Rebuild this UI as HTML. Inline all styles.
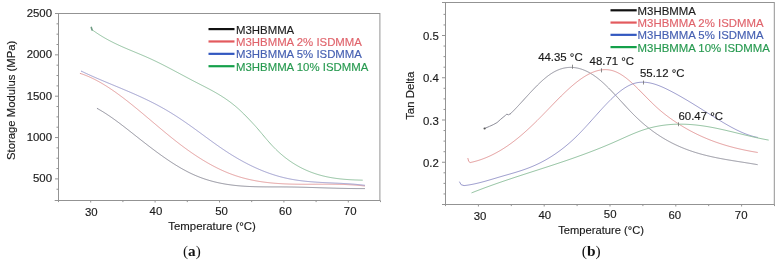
<!DOCTYPE html>
<html><head><meta charset="utf-8"><style>
html,body{margin:0;padding:0;background:#fff;}
body{width:779px;height:263px;overflow:hidden;}
svg{display:block;filter:blur(0.45px);font-family:"Liberation Sans",sans-serif;font-size:11.4px;fill:#1a1a1a;}
text{stroke:#1a1a1a;stroke-width:0.15px;}
</style></head><body>
<svg width="779" height="263" viewBox="0 0 779 263">
<rect width="779" height="263" fill="#fff"/>
<line x1="54.7" y1="200.5" x2="58.5" y2="200.5" stroke="#939393"/>
<rect x="58.5" y="13.5" width="321.4" height="187.0" fill="none" stroke="#939393" stroke-width="1"/>
<line x1="56.5" y1="189.24" x2="58.5" y2="189.24" stroke="#939393"/>
<line x1="55.0" y1="178.90" x2="58.5" y2="178.90" stroke="#939393"/>
<text x="52" y="182.30" text-anchor="end">500</text>
<line x1="56.5" y1="168.56" x2="58.5" y2="168.56" stroke="#939393"/>
<line x1="56.5" y1="158.22" x2="58.5" y2="158.22" stroke="#939393"/>
<line x1="56.5" y1="147.89" x2="58.5" y2="147.89" stroke="#939393"/>
<line x1="55.0" y1="137.55" x2="58.5" y2="137.55" stroke="#939393"/>
<text x="52" y="140.95" text-anchor="end">1000</text>
<line x1="56.5" y1="127.21" x2="58.5" y2="127.21" stroke="#939393"/>
<line x1="56.5" y1="116.88" x2="58.5" y2="116.88" stroke="#939393"/>
<line x1="56.5" y1="106.54" x2="58.5" y2="106.54" stroke="#939393"/>
<line x1="55.0" y1="96.20" x2="58.5" y2="96.20" stroke="#939393"/>
<text x="52" y="99.60" text-anchor="end">1500</text>
<line x1="56.5" y1="85.86" x2="58.5" y2="85.86" stroke="#939393"/>
<line x1="56.5" y1="75.53" x2="58.5" y2="75.53" stroke="#939393"/>
<line x1="56.5" y1="65.19" x2="58.5" y2="65.19" stroke="#939393"/>
<line x1="55.0" y1="54.85" x2="58.5" y2="54.85" stroke="#939393"/>
<text x="52" y="58.25" text-anchor="end">2000</text>
<line x1="56.5" y1="44.51" x2="58.5" y2="44.51" stroke="#939393"/>
<line x1="56.5" y1="34.17" x2="58.5" y2="34.17" stroke="#939393"/>
<line x1="56.5" y1="23.84" x2="58.5" y2="23.84" stroke="#939393"/>
<line x1="55.0" y1="13.50" x2="58.5" y2="13.50" stroke="#939393"/>
<text x="52" y="16.90" text-anchor="end">2500</text>
<line x1="58.50" y1="200.5" x2="58.50" y2="202.1" stroke="#939393"/>
<line x1="90.70" y1="200.5" x2="90.70" y2="202.5" stroke="#939393"/>
<text x="91.30" y="216.10" text-anchor="middle">30</text>
<line x1="122.90" y1="200.5" x2="122.90" y2="202.1" stroke="#939393"/>
<line x1="155.10" y1="200.5" x2="155.10" y2="202.5" stroke="#939393"/>
<text x="155.90" y="215.40" text-anchor="middle">40</text>
<line x1="187.30" y1="200.5" x2="187.30" y2="202.1" stroke="#939393"/>
<line x1="219.50" y1="200.5" x2="219.50" y2="202.5" stroke="#939393"/>
<text x="221.50" y="214.70" text-anchor="middle">50</text>
<line x1="251.70" y1="200.5" x2="251.70" y2="202.1" stroke="#939393"/>
<line x1="283.90" y1="200.5" x2="283.90" y2="202.5" stroke="#939393"/>
<text x="285.40" y="215.00" text-anchor="middle">60</text>
<line x1="316.10" y1="200.5" x2="316.10" y2="202.1" stroke="#939393"/>
<line x1="348.30" y1="200.5" x2="348.30" y2="202.5" stroke="#939393"/>
<text x="350.20" y="215.00" text-anchor="middle">70</text>
<line x1="380.50" y1="200.5" x2="380.50" y2="202.1" stroke="#939393"/>
<text x="168.3" y="229.8" textLength="87.5" lengthAdjust="spacingAndGlyphs">Temperature (°C)</text>
<text transform="translate(14.9,100.3) rotate(-90)" text-anchor="middle" font-size="11.3">Storage Modulus (MPa)</text>
<text x="191.9" y="256" text-anchor="middle" font-family="Liberation Serif, serif" font-size="15.2" style="fill:#111;stroke:none">(<tspan font-weight="bold">a</tspan>)</text>
<path d="M97.30,108.51 L98.30,109.06 L99.30,109.63 L100.30,110.21 L101.30,110.80 L102.30,111.40 L103.30,112.01 L104.30,112.64 L105.30,113.27 L106.30,113.92 L107.30,114.58 L108.30,115.24 L109.30,115.92 L110.30,116.60 L111.30,117.29 L112.30,117.99 L113.30,118.70 L114.30,119.41 L115.30,120.14 L116.30,120.87 L117.30,121.60 L118.30,122.34 L119.30,123.09 L120.30,123.84 L121.30,124.60 L122.30,125.36 L123.30,126.13 L124.30,126.90 L125.30,127.67 L126.30,128.45 L127.30,129.23 L128.30,130.01 L129.30,130.80 L130.30,131.58 L131.30,132.37 L132.30,133.16 L133.30,133.95 L134.30,134.74 L135.30,135.53 L136.30,136.32 L137.30,137.11 L138.30,137.89 L139.30,138.68 L140.30,139.47 L141.30,140.25 L142.30,141.03 L143.30,141.81 L144.30,142.59 L145.30,143.37 L146.30,144.14 L147.30,144.92 L148.30,145.68 L149.30,146.45 L150.30,147.21 L151.30,147.97 L152.30,148.73 L153.30,149.48 L154.30,150.23 L155.30,150.98 L156.30,151.72 L157.30,152.45 L158.30,153.19 L159.30,153.91 L160.30,154.64 L161.30,155.35 L162.30,156.07 L163.30,156.77 L164.30,157.47 L165.30,158.17 L166.30,158.86 L167.30,159.54 L168.30,160.22 L169.30,160.89 L170.30,161.55 L171.30,162.21 L172.30,162.86 L173.30,163.50 L174.30,164.13 L175.30,164.76 L176.30,165.38 L177.30,165.99 L178.30,166.59 L179.30,167.19 L180.30,167.77 L181.30,168.35 L182.30,168.92 L183.30,169.48 L184.30,170.02 L185.30,170.56 L186.30,171.10 L187.30,171.62 L188.30,172.13 L189.30,172.63 L190.30,173.12 L191.30,173.60 L192.30,174.06 L193.30,174.52 L194.30,174.97 L195.30,175.40 L196.30,175.83 L197.30,176.24 L198.30,176.65 L199.30,177.04 L200.30,177.42 L201.30,177.80 L202.30,178.16 L203.30,178.51 L204.30,178.86 L205.30,179.19 L206.30,179.52 L207.30,179.83 L208.30,180.14 L209.30,180.44 L210.30,180.72 L211.30,181.00 L212.30,181.28 L213.30,181.54 L214.30,181.79 L215.30,182.04 L216.30,182.28 L217.30,182.51 L218.30,182.73 L219.30,182.94 L220.30,183.15 L221.30,183.35 L222.30,183.54 L223.30,183.73 L224.30,183.91 L225.30,184.08 L226.30,184.25 L227.30,184.40 L228.30,184.56 L229.30,184.70 L230.30,184.84 L231.30,184.97 L232.30,185.10 L233.30,185.22 L234.30,185.34 L235.30,185.45 L236.30,185.56 L237.30,185.66 L238.30,185.75 L239.30,185.84 L240.30,185.93 L241.30,186.01 L242.30,186.08 L243.30,186.15 L244.30,186.22 L245.30,186.28 L246.30,186.34 L247.30,186.40 L248.30,186.45 L249.30,186.50 L250.30,186.54 L251.30,186.58 L252.30,186.62 L253.30,186.65 L254.30,186.69 L255.30,186.72 L256.30,186.74 L257.30,186.77 L258.30,186.79 L259.30,186.81 L260.30,186.82 L261.30,186.84 L262.30,186.85 L263.30,186.86 L264.30,186.87 L265.30,186.88 L266.30,186.89 L267.30,186.89 L268.30,186.90 L269.30,186.90 L270.30,186.90 L271.30,186.91 L272.30,186.91 L273.30,186.91 L274.30,186.91 L275.30,186.91 L276.30,186.91 L277.30,186.91 L278.30,186.91 L279.30,186.92 L280.30,186.92 L281.30,186.92 L282.30,186.93 L283.30,186.93 L284.30,186.94 L285.30,186.94 L286.30,186.95 L287.30,186.96 L288.30,186.97 L289.30,186.99 L290.30,187.00 L291.30,187.01 L292.30,187.03 L293.30,187.05 L294.30,187.06 L295.30,187.08 L296.30,187.10 L297.30,187.12 L298.30,187.14 L299.30,187.17 L300.30,187.19 L301.30,187.21 L302.30,187.24 L303.30,187.26 L304.30,187.29 L305.30,187.32 L306.30,187.34 L307.30,187.37 L308.30,187.40 L309.30,187.43 L310.30,187.46 L311.30,187.48 L312.30,187.51 L313.30,187.54 L314.30,187.57 L315.30,187.60 L316.30,187.64 L317.30,187.67 L318.30,187.70 L319.30,187.73 L320.30,187.76 L321.30,187.79 L322.30,187.82 L323.30,187.85 L324.30,187.88 L325.30,187.91 L326.30,187.94 L327.30,187.97 L328.30,188.00 L329.30,188.03 L330.30,188.06 L331.30,188.09 L332.30,188.12 L333.30,188.15 L334.30,188.17 L335.30,188.20 L336.30,188.23 L337.30,188.25 L338.30,188.28 L339.30,188.30 L340.30,188.33 L341.30,188.35 L342.30,188.37 L343.30,188.39 L344.30,188.41 L345.30,188.43 L346.30,188.45 L347.30,188.47 L348.30,188.49 L349.30,188.50 L350.30,188.52 L351.30,188.53 L352.30,188.54 L353.30,188.55 L354.30,188.56 L355.30,188.57 L356.30,188.58 L357.30,188.59 L358.30,188.59 L359.30,188.59 L360.30,188.59 L361.30,188.59 L362.30,188.59 L363.30,188.59 L364.30,188.59 L364.60,188.58" fill="none" stroke="#8e8e9a" stroke-width="1" stroke-linejoin="round" stroke-linecap="round"/>
<path d="M80.30,73.46 L81.30,73.78 L82.30,74.12 L83.30,74.47 L84.30,74.84 L85.30,75.22 L86.30,75.61 L87.30,76.02 L88.30,76.44 L89.30,76.88 L90.30,77.32 L91.30,77.78 L92.30,78.26 L93.30,78.74 L94.30,79.24 L95.30,79.75 L96.30,80.27 L97.30,80.80 L98.30,81.34 L99.30,81.90 L100.30,82.46 L101.30,83.04 L102.30,83.62 L103.30,84.22 L104.30,84.83 L105.30,85.44 L106.30,86.07 L107.30,86.70 L108.30,87.35 L109.30,88.00 L110.30,88.66 L111.30,89.34 L112.30,90.01 L113.30,90.70 L114.30,91.40 L115.30,92.10 L116.30,92.81 L117.30,93.53 L118.30,94.26 L119.30,94.99 L120.30,95.73 L121.30,96.47 L122.30,97.22 L123.30,97.98 L124.30,98.74 L125.30,99.51 L126.30,100.29 L127.30,101.07 L128.30,101.85 L129.30,102.64 L130.30,103.44 L131.30,104.24 L132.30,105.04 L133.30,105.85 L134.30,106.66 L135.30,107.48 L136.30,108.29 L137.30,109.12 L138.30,109.94 L139.30,110.77 L140.30,111.60 L141.30,112.43 L142.30,113.26 L143.30,114.10 L144.30,114.94 L145.30,115.78 L146.30,116.62 L147.30,117.46 L148.30,118.30 L149.30,119.15 L150.30,119.99 L151.30,120.84 L152.30,121.68 L153.30,122.53 L154.30,123.37 L155.30,124.21 L156.30,125.06 L157.30,125.90 L158.30,126.74 L159.30,127.58 L160.30,128.42 L161.30,129.25 L162.30,130.09 L163.30,130.92 L164.30,131.75 L165.30,132.58 L166.30,133.40 L167.30,134.22 L168.30,135.04 L169.30,135.86 L170.30,136.67 L171.30,137.48 L172.30,138.28 L173.30,139.08 L174.30,139.87 L175.30,140.66 L176.30,141.45 L177.30,142.23 L178.30,143.00 L179.30,143.77 L180.30,144.54 L181.30,145.29 L182.30,146.05 L183.30,146.79 L184.30,147.53 L185.30,148.26 L186.30,148.99 L187.30,149.71 L188.30,150.43 L189.30,151.13 L190.30,151.84 L191.30,152.53 L192.30,153.22 L193.30,153.90 L194.30,154.57 L195.30,155.24 L196.30,155.90 L197.30,156.56 L198.30,157.20 L199.30,157.84 L200.30,158.48 L201.30,159.10 L202.30,159.72 L203.30,160.33 L204.30,160.93 L205.30,161.53 L206.30,162.12 L207.30,162.70 L208.30,163.27 L209.30,163.83 L210.30,164.39 L211.30,164.94 L212.30,165.48 L213.30,166.02 L214.30,166.54 L215.30,167.06 L216.30,167.57 L217.30,168.07 L218.30,168.56 L219.30,169.04 L220.30,169.52 L221.30,169.98 L222.30,170.44 L223.30,170.89 L224.30,171.33 L225.30,171.76 L226.30,172.18 L227.30,172.60 L228.30,173.00 L229.30,173.40 L230.30,173.78 L231.30,174.16 L232.30,174.53 L233.30,174.88 L234.30,175.23 L235.30,175.58 L236.30,175.91 L237.30,176.23 L238.30,176.55 L239.30,176.85 L240.30,177.15 L241.30,177.44 L242.30,177.73 L243.30,178.00 L244.30,178.27 L245.30,178.53 L246.30,178.78 L247.30,179.02 L248.30,179.26 L249.30,179.49 L250.30,179.71 L251.30,179.93 L252.30,180.14 L253.30,180.34 L254.30,180.53 L255.30,180.72 L256.30,180.90 L257.30,181.08 L258.30,181.25 L259.30,181.41 L260.30,181.57 L261.30,181.72 L262.30,181.87 L263.30,182.01 L264.30,182.15 L265.30,182.28 L266.30,182.40 L267.30,182.52 L268.30,182.63 L269.30,182.74 L270.30,182.85 L271.30,182.95 L272.30,183.04 L273.30,183.13 L274.30,183.22 L275.30,183.30 L276.30,183.37 L277.30,183.45 L278.30,183.52 L279.30,183.58 L280.30,183.64 L281.30,183.70 L282.30,183.76 L283.30,183.81 L284.30,183.86 L285.30,183.90 L286.30,183.94 L287.30,183.98 L288.30,184.02 L289.30,184.05 L290.30,184.08 L291.30,184.11 L292.30,184.13 L293.30,184.15 L294.30,184.17 L295.30,184.19 L296.30,184.21 L297.30,184.22 L298.30,184.23 L299.30,184.24 L300.30,184.25 L301.30,184.26 L302.30,184.26 L303.30,184.26 L304.30,184.27 L305.30,184.27 L306.30,184.27 L307.30,184.27 L308.30,184.27 L309.30,184.26 L310.30,184.26 L311.30,184.26 L312.30,184.25 L313.30,184.25 L314.30,184.24 L315.30,184.24 L316.30,184.23 L317.30,184.23 L318.30,184.22 L319.30,184.22 L320.30,184.21 L321.30,184.21 L322.30,184.21 L323.30,184.20 L324.30,184.20 L325.30,184.20 L326.30,184.20 L327.30,184.20 L328.30,184.20 L329.30,184.21 L330.30,184.21 L331.30,184.22 L332.30,184.23 L333.30,184.24 L334.30,184.25 L335.30,184.26 L336.30,184.28 L337.30,184.30 L338.30,184.32 L339.30,184.34 L340.30,184.36 L341.30,184.39 L342.30,184.42 L343.30,184.45 L344.30,184.49 L345.30,184.53 L346.30,184.57 L347.30,184.61 L348.30,184.66 L349.30,184.71 L350.30,184.77 L351.30,184.82 L352.30,184.89 L353.30,184.95 L354.30,185.02 L355.30,185.09 L356.30,185.17 L357.30,185.25 L358.30,185.34 L359.30,185.43 L360.30,185.52 L361.30,185.62 L362.30,185.73 L363.30,185.83 L364.30,185.95 L364.60,185.98" fill="none" stroke="#e49c9c" stroke-width="1" stroke-linejoin="round" stroke-linecap="round"/>
<path d="M81.40,71.19 L82.40,71.67 L83.40,72.14 L84.40,72.62 L85.40,73.08 L86.40,73.55 L87.40,74.01 L88.40,74.47 L89.40,74.92 L90.40,75.37 L91.40,75.82 L92.40,76.27 L93.40,76.71 L94.40,77.15 L95.40,77.59 L96.40,78.02 L97.40,78.45 L98.40,78.88 L99.40,79.31 L100.40,79.74 L101.40,80.17 L102.40,80.59 L103.40,81.01 L104.40,81.43 L105.40,81.85 L106.40,82.27 L107.40,82.69 L108.40,83.11 L109.40,83.52 L110.40,83.94 L111.40,84.35 L112.40,84.77 L113.40,85.18 L114.40,85.60 L115.40,86.01 L116.40,86.43 L117.40,86.84 L118.40,87.26 L119.40,87.67 L120.40,88.09 L121.40,88.51 L122.40,88.93 L123.40,89.35 L124.40,89.77 L125.40,90.19 L126.40,90.61 L127.40,91.04 L128.40,91.46 L129.40,91.89 L130.40,92.32 L131.40,92.75 L132.40,93.19 L133.40,93.62 L134.40,94.06 L135.40,94.50 L136.40,94.95 L137.40,95.40 L138.40,95.85 L139.40,96.30 L140.40,96.76 L141.40,97.21 L142.40,97.68 L143.40,98.14 L144.40,98.61 L145.40,99.09 L146.40,99.57 L147.40,100.05 L148.40,100.53 L149.40,101.02 L150.40,101.52 L151.40,102.02 L152.40,102.52 L153.40,103.03 L154.40,103.54 L155.40,104.06 L156.40,104.59 L157.40,105.12 L158.40,105.65 L159.40,106.19 L160.40,106.74 L161.40,107.29 L162.40,107.84 L163.40,108.41 L164.40,108.98 L165.40,109.55 L166.40,110.14 L167.40,110.72 L168.40,111.32 L169.40,111.92 L170.40,112.53 L171.40,113.14 L172.40,113.76 L173.40,114.38 L174.40,115.02 L175.40,115.65 L176.40,116.29 L177.40,116.94 L178.40,117.59 L179.40,118.25 L180.40,118.91 L181.40,119.58 L182.40,120.26 L183.40,120.93 L184.40,121.62 L185.40,122.30 L186.40,123.00 L187.40,123.69 L188.40,124.39 L189.40,125.10 L190.40,125.81 L191.40,126.52 L192.40,127.24 L193.40,127.96 L194.40,128.68 L195.40,129.40 L196.40,130.13 L197.40,130.86 L198.40,131.59 L199.40,132.32 L200.40,133.06 L201.40,133.79 L202.40,134.52 L203.40,135.26 L204.40,135.99 L205.40,136.73 L206.40,137.46 L207.40,138.19 L208.40,138.92 L209.40,139.65 L210.40,140.38 L211.40,141.11 L212.40,141.83 L213.40,142.55 L214.40,143.27 L215.40,143.98 L216.40,144.69 L217.40,145.40 L218.40,146.10 L219.40,146.80 L220.40,147.49 L221.40,148.18 L222.40,148.86 L223.40,149.54 L224.40,150.21 L225.40,150.88 L226.40,151.54 L227.40,152.19 L228.40,152.84 L229.40,153.48 L230.40,154.11 L231.40,154.73 L232.40,155.35 L233.40,155.97 L234.40,156.57 L235.40,157.17 L236.40,157.76 L237.40,158.35 L238.40,158.93 L239.40,159.50 L240.40,160.06 L241.40,160.62 L242.40,161.17 L243.40,161.72 L244.40,162.25 L245.40,162.78 L246.40,163.31 L247.40,163.82 L248.40,164.33 L249.40,164.83 L250.40,165.33 L251.40,165.82 L252.40,166.30 L253.40,166.77 L254.40,167.24 L255.40,167.70 L256.40,168.15 L257.40,168.59 L258.40,169.03 L259.40,169.46 L260.40,169.88 L261.40,170.30 L262.40,170.71 L263.40,171.11 L264.40,171.50 L265.40,171.89 L266.40,172.27 L267.40,172.64 L268.40,173.00 L269.40,173.36 L270.40,173.70 L271.40,174.04 L272.40,174.38 L273.40,174.70 L274.40,175.02 L275.40,175.33 L276.40,175.63 L277.40,175.93 L278.40,176.22 L279.40,176.50 L280.40,176.77 L281.40,177.03 L282.40,177.29 L283.40,177.54 L284.40,177.78 L285.40,178.01 L286.40,178.23 L287.40,178.45 L288.40,178.66 L289.40,178.86 L290.40,179.06 L291.40,179.25 L292.40,179.43 L293.40,179.60 L294.40,179.77 L295.40,179.93 L296.40,180.09 L297.40,180.24 L298.40,180.38 L299.40,180.52 L300.40,180.65 L301.40,180.78 L302.40,180.90 L303.40,181.02 L304.40,181.13 L305.40,181.24 L306.40,181.34 L307.40,181.44 L308.40,181.53 L309.40,181.62 L310.40,181.71 L311.40,181.79 L312.40,181.87 L313.40,181.95 L314.40,182.02 L315.40,182.09 L316.40,182.16 L317.40,182.22 L318.40,182.28 L319.40,182.34 L320.40,182.40 L321.40,182.46 L322.40,182.51 L323.40,182.56 L324.40,182.61 L325.40,182.66 L326.40,182.71 L327.40,182.75 L328.40,182.80 L329.40,182.85 L330.40,182.89 L331.40,182.93 L332.40,182.98 L333.40,183.02 L334.40,183.07 L335.40,183.11 L336.40,183.16 L337.40,183.20 L338.40,183.25 L339.40,183.30 L340.40,183.34 L341.40,183.39 L342.40,183.45 L343.40,183.50 L344.40,183.55 L345.40,183.61 L346.40,183.67 L347.40,183.73 L348.40,183.79 L349.40,183.86 L350.40,183.93 L351.40,184.00 L352.40,184.08 L353.40,184.15 L354.40,184.24 L355.40,184.32 L356.40,184.41 L357.40,184.50 L358.40,184.60 L359.40,184.70 L360.40,184.81 L361.40,184.92 L362.40,185.04 L363.40,185.16 L364.40,185.28 L364.60,185.31" fill="none" stroke="#9a9acc" stroke-width="1" stroke-linejoin="round" stroke-linecap="round"/>
<path d="M91.80,29.54 L92.80,30.27 L93.80,30.99 L94.80,31.70 L95.80,32.39 L96.80,33.06 L97.80,33.73 L98.80,34.38 L99.80,35.01 L100.80,35.64 L101.80,36.25 L102.80,36.85 L103.80,37.45 L104.80,38.03 L105.80,38.59 L106.80,39.15 L107.80,39.70 L108.80,40.24 L109.80,40.77 L110.80,41.29 L111.80,41.81 L112.80,42.31 L113.80,42.81 L114.80,43.30 L115.80,43.78 L116.80,44.26 L117.80,44.73 L118.80,45.19 L119.80,45.65 L120.80,46.11 L121.80,46.55 L122.80,47.00 L123.80,47.44 L124.80,47.87 L125.80,48.30 L126.80,48.73 L127.80,49.16 L128.80,49.58 L129.80,50.00 L130.80,50.42 L131.80,50.84 L132.80,51.26 L133.80,51.67 L134.80,52.09 L135.80,52.50 L136.80,52.92 L137.80,53.33 L138.80,53.75 L139.80,54.17 L140.80,54.59 L141.80,55.01 L142.80,55.44 L143.80,55.86 L144.80,56.29 L145.80,56.73 L146.80,57.17 L147.80,57.61 L148.80,58.05 L149.80,58.50 L150.80,58.96 L151.80,59.42 L152.80,59.89 L153.80,60.36 L154.80,60.83 L155.80,61.31 L156.80,61.80 L157.80,62.29 L158.80,62.78 L159.80,63.27 L160.80,63.77 L161.80,64.28 L162.80,64.78 L163.80,65.29 L164.80,65.80 L165.80,66.32 L166.80,66.84 L167.80,67.36 L168.80,67.88 L169.80,68.40 L170.80,68.93 L171.80,69.45 L172.80,69.98 L173.80,70.51 L174.80,71.05 L175.80,71.58 L176.80,72.11 L177.80,72.65 L178.80,73.18 L179.80,73.71 L180.80,74.25 L181.80,74.78 L182.80,75.32 L183.80,75.85 L184.80,76.39 L185.80,76.92 L186.80,77.45 L187.80,77.98 L188.80,78.51 L189.80,79.04 L190.80,79.57 L191.80,80.10 L192.80,80.62 L193.80,81.14 L194.80,81.66 L195.80,82.18 L196.80,82.69 L197.80,83.20 L198.80,83.72 L199.80,84.23 L200.80,84.74 L201.80,85.25 L202.80,85.76 L203.80,86.27 L204.80,86.79 L205.80,87.30 L206.80,87.82 L207.80,88.35 L208.80,88.87 L209.80,89.40 L210.80,89.94 L211.80,90.48 L212.80,91.03 L213.80,91.59 L214.80,92.15 L215.80,92.72 L216.80,93.30 L217.80,93.88 L218.80,94.48 L219.80,95.09 L220.80,95.70 L221.80,96.33 L222.80,96.97 L223.80,97.62 L224.80,98.28 L225.80,98.96 L226.80,99.65 L227.80,100.35 L228.80,101.07 L229.80,101.81 L230.80,102.56 L231.80,103.32 L232.80,104.11 L233.80,104.91 L234.80,105.72 L235.80,106.56 L236.80,107.41 L237.80,108.29 L238.80,109.18 L239.80,110.10 L240.80,111.04 L241.80,111.99 L242.80,112.97 L243.80,113.96 L244.80,114.96 L245.80,115.98 L246.80,117.00 L247.80,118.04 L248.80,119.08 L249.80,120.12 L250.80,121.17 L251.80,122.23 L252.80,123.30 L253.80,124.38 L254.80,125.48 L255.80,126.60 L256.80,127.74 L257.80,128.89 L258.80,130.06 L259.80,131.24 L260.80,132.43 L261.80,133.63 L262.80,134.82 L263.80,136.02 L264.80,137.21 L265.80,138.40 L266.80,139.57 L267.80,140.73 L268.80,141.88 L269.80,143.01 L270.80,144.12 L271.80,145.20 L272.80,146.26 L273.80,147.29 L274.80,148.31 L275.80,149.30 L276.80,150.27 L277.80,151.21 L278.80,152.14 L279.80,153.04 L280.80,153.92 L281.80,154.78 L282.80,155.62 L283.80,156.44 L284.80,157.24 L285.80,158.02 L286.80,158.78 L287.80,159.53 L288.80,160.25 L289.80,160.96 L290.80,161.64 L291.80,162.32 L292.80,162.97 L293.80,163.60 L294.80,164.22 L295.80,164.83 L296.80,165.41 L297.80,165.98 L298.80,166.54 L299.80,167.08 L300.80,167.61 L301.80,168.12 L302.80,168.61 L303.80,169.10 L304.80,169.56 L305.80,170.02 L306.80,170.46 L307.80,170.89 L308.80,171.31 L309.80,171.71 L310.80,172.10 L311.80,172.47 L312.80,172.84 L313.80,173.19 L314.80,173.53 L315.80,173.86 L316.80,174.18 L317.80,174.49 L318.80,174.79 L319.80,175.07 L320.80,175.35 L321.80,175.61 L322.80,175.87 L323.80,176.11 L324.80,176.34 L325.80,176.57 L326.80,176.79 L327.80,176.99 L328.80,177.19 L329.80,177.38 L330.80,177.56 L331.80,177.74 L332.80,177.90 L333.80,178.06 L334.80,178.21 L335.80,178.35 L336.80,178.49 L337.80,178.61 L338.80,178.73 L339.80,178.85 L340.80,178.96 L341.80,179.06 L342.80,179.16 L343.80,179.25 L344.80,179.33 L345.80,179.41 L346.80,179.49 L347.80,179.56 L348.80,179.63 L349.80,179.69 L350.80,179.74 L351.80,179.80 L352.80,179.85 L353.80,179.89 L354.80,179.94 L355.80,179.97 L356.80,180.01 L357.80,180.04 L358.80,180.08 L359.80,180.10 L360.80,180.13 L361.80,180.16 L362.30,180.17" fill="none" stroke="#92c2a0" stroke-width="1" stroke-linejoin="round" stroke-linecap="round"/>
<path d="M91.3,27.4 L92.1,29.9" stroke="#6f9c84" stroke-width="1.6" stroke-linecap="round"/>
<line x1="208.5" y1="29.10" x2="234.5" y2="29.10" stroke="#111111" stroke-width="2.2"/>
<text x="236" y="33.50" style="fill:#1e1e1e;stroke:#1e1e1e">M3HBMMA</text>
<line x1="208.5" y1="41.47" x2="234.5" y2="41.47" stroke="#e35a5e" stroke-width="2.2"/>
<text x="236" y="45.87" style="fill:#e0646c;stroke:#e0646c">M3HBMMA 2% ISDMMA</text>
<line x1="208.5" y1="53.84" x2="234.5" y2="53.84" stroke="#3358c0" stroke-width="2.2"/>
<text x="236" y="58.24" style="fill:#4660b2;stroke:#4660b2">M3HBMMA 5% ISDMMA</text>
<line x1="208.5" y1="66.21" x2="234.5" y2="66.21" stroke="#14a04a" stroke-width="2.2"/>
<text x="236" y="70.61" style="fill:#279a50;stroke:#279a50">M3HBMMA 10% ISDMMA</text>
<line x1="442.0" y1="2.5" x2="445.5" y2="2.5" stroke="#939393"/>
<rect x="445.5" y="2.5" width="328.79999999999995" height="202.0" fill="none" stroke="#939393" stroke-width="1"/>
<line x1="442.0" y1="204.50" x2="445.5" y2="204.50" stroke="#939393"/>
<line x1="443.5" y1="193.94" x2="445.5" y2="193.94" stroke="#939393"/>
<line x1="443.5" y1="183.38" x2="445.5" y2="183.38" stroke="#939393"/>
<line x1="443.5" y1="172.81" x2="445.5" y2="172.81" stroke="#939393"/>
<line x1="442.0" y1="162.25" x2="445.5" y2="162.25" stroke="#939393"/>
<text x="438.8" y="166.85" text-anchor="end">0.2</text>
<line x1="443.5" y1="151.69" x2="445.5" y2="151.69" stroke="#939393"/>
<line x1="443.5" y1="141.12" x2="445.5" y2="141.12" stroke="#939393"/>
<line x1="443.5" y1="130.56" x2="445.5" y2="130.56" stroke="#939393"/>
<line x1="442.0" y1="120.00" x2="445.5" y2="120.00" stroke="#939393"/>
<text x="438.8" y="124.60" text-anchor="end">0.3</text>
<line x1="443.5" y1="109.44" x2="445.5" y2="109.44" stroke="#939393"/>
<line x1="443.5" y1="98.88" x2="445.5" y2="98.88" stroke="#939393"/>
<line x1="443.5" y1="88.31" x2="445.5" y2="88.31" stroke="#939393"/>
<line x1="442.0" y1="77.75" x2="445.5" y2="77.75" stroke="#939393"/>
<text x="438.8" y="82.35" text-anchor="end">0.4</text>
<line x1="443.5" y1="67.19" x2="445.5" y2="67.19" stroke="#939393"/>
<line x1="443.5" y1="56.62" x2="445.5" y2="56.62" stroke="#939393"/>
<line x1="443.5" y1="46.06" x2="445.5" y2="46.06" stroke="#939393"/>
<line x1="442.0" y1="35.50" x2="445.5" y2="35.50" stroke="#939393"/>
<text x="438.8" y="40.10" text-anchor="end">0.5</text>
<line x1="443.5" y1="24.94" x2="445.5" y2="24.94" stroke="#939393"/>
<line x1="443.5" y1="14.37" x2="445.5" y2="14.37" stroke="#939393"/>
<line x1="445.50" y1="204.5" x2="445.50" y2="206.1" stroke="#939393"/>
<line x1="478.40" y1="204.5" x2="478.40" y2="206.5" stroke="#939393"/>
<text x="480.00" y="219.60" text-anchor="middle">30</text>
<line x1="511.30" y1="204.5" x2="511.30" y2="206.1" stroke="#939393"/>
<line x1="544.20" y1="204.5" x2="544.20" y2="206.5" stroke="#939393"/>
<text x="544.80" y="219.30" text-anchor="middle">40</text>
<line x1="577.10" y1="204.5" x2="577.10" y2="206.1" stroke="#939393"/>
<line x1="610.00" y1="204.5" x2="610.00" y2="206.5" stroke="#939393"/>
<text x="610.20" y="218.40" text-anchor="middle">50</text>
<line x1="642.90" y1="204.5" x2="642.90" y2="206.1" stroke="#939393"/>
<line x1="675.80" y1="204.5" x2="675.80" y2="206.5" stroke="#939393"/>
<text x="674.80" y="218.80" text-anchor="middle">60</text>
<line x1="708.70" y1="204.5" x2="708.70" y2="206.1" stroke="#939393"/>
<line x1="741.60" y1="204.5" x2="741.60" y2="206.5" stroke="#939393"/>
<text x="741.20" y="218.50" text-anchor="middle">70</text>
<line x1="774.50" y1="204.5" x2="774.50" y2="206.1" stroke="#939393"/>
<text x="558.2" y="234.2" textLength="85.8" lengthAdjust="spacingAndGlyphs">Temperature (°C)</text>
<text transform="translate(414,95.8) rotate(-90)" text-anchor="middle">Tan Delta</text>
<text x="591.2" y="256" text-anchor="middle" font-family="Liberation Serif, serif" font-size="15.4" style="fill:#111;stroke:none">(<tspan font-weight="bold">b</tspan>)</text>
<path d="M484.50,128.50 L489.40,126.40 L493.20,124.70 L497.00,122.60 L500.80,119.20 L505.40,115.40 L506.80,114.20 L508.60,114.80 L510.50,113.60" fill="none" stroke="#8e8e9a" stroke-width="1" stroke-linejoin="round" stroke-linecap="round"/>
<circle cx="484.6" cy="128.5" r="1.1" fill="#555"/>
<path d="M510.50,113.76 L511.50,112.78 L512.50,111.77 L513.50,110.75 L514.50,109.72 L515.50,108.68 L516.50,107.62 L517.50,106.56 L518.50,105.49 L519.50,104.41 L520.50,103.32 L521.50,102.23 L522.50,101.13 L523.50,100.04 L524.50,98.94 L525.50,97.84 L526.50,96.75 L527.50,95.65 L528.50,94.57 L529.50,93.48 L530.50,92.40 L531.50,91.33 L532.50,90.27 L533.50,89.22 L534.50,88.18 L535.50,87.15 L536.50,86.14 L537.50,85.14 L538.50,84.16 L539.50,83.20 L540.50,82.25 L541.50,81.33 L542.50,80.42 L543.50,79.54 L544.50,78.68 L545.50,77.85 L546.50,77.04 L547.50,76.26 L548.50,75.51 L549.50,74.79 L550.50,74.09 L551.50,73.44 L552.50,72.81 L553.50,72.22 L554.50,71.67 L555.50,71.15 L556.50,70.66 L557.50,70.21 L558.50,69.79 L559.50,69.41 L560.50,69.06 L561.50,68.74 L562.50,68.46 L563.50,68.21 L564.50,68.00 L565.50,67.81 L566.50,67.66 L567.50,67.54 L568.50,67.46 L569.50,67.40 L570.50,67.38 L571.50,67.39 L572.50,67.43 L573.50,67.51 L574.50,67.61 L575.50,67.74 L576.50,67.91 L577.50,68.10 L578.50,68.33 L579.50,68.58 L580.50,68.87 L581.50,69.18 L582.50,69.53 L583.50,69.90 L584.50,70.30 L585.50,70.73 L586.50,71.19 L587.50,71.68 L588.50,72.20 L589.50,72.74 L590.50,73.32 L591.50,73.92 L592.50,74.54 L593.50,75.20 L594.50,75.88 L595.50,76.59 L596.50,77.32 L597.50,78.08 L598.50,78.87 L599.50,79.69 L600.50,80.52 L601.50,81.38 L602.50,82.27 L603.50,83.17 L604.50,84.09 L605.50,85.04 L606.50,86.00 L607.50,86.97 L608.50,87.96 L609.50,88.97 L610.50,89.99 L611.50,91.02 L612.50,92.06 L613.50,93.11 L614.50,94.17 L615.50,95.24 L616.50,96.32 L617.50,97.40 L618.50,98.48 L619.50,99.57 L620.50,100.66 L621.50,101.75 L622.50,102.84 L623.50,103.92 L624.50,105.01 L625.50,106.09 L626.50,107.17 L627.50,108.24 L628.50,109.31 L629.50,110.36 L630.50,111.41 L631.50,112.45 L632.50,113.47 L633.50,114.49 L634.50,115.49 L635.50,116.47 L636.50,117.44 L637.50,118.40 L638.50,119.33 L639.50,120.26 L640.50,121.17 L641.50,122.06 L642.50,122.94 L643.50,123.81 L644.50,124.66 L645.50,125.49 L646.50,126.32 L647.50,127.13 L648.50,127.92 L649.50,128.70 L650.50,129.47 L651.50,130.23 L652.50,130.97 L653.50,131.70 L654.50,132.41 L655.50,133.11 L656.50,133.80 L657.50,134.48 L658.50,135.15 L659.50,135.80 L660.50,136.44 L661.50,137.07 L662.50,137.69 L663.50,138.30 L664.50,138.89 L665.50,139.48 L666.50,140.05 L667.50,140.61 L668.50,141.16 L669.50,141.70 L670.50,142.23 L671.50,142.75 L672.50,143.26 L673.50,143.76 L674.50,144.24 L675.50,144.72 L676.50,145.19 L677.50,145.65 L678.50,146.10 L679.50,146.54 L680.50,146.98 L681.50,147.40 L682.50,147.81 L683.50,148.22 L684.50,148.62 L685.50,149.01 L686.50,149.39 L687.50,149.76 L688.50,150.13 L689.50,150.48 L690.50,150.83 L691.50,151.17 L692.50,151.51 L693.50,151.84 L694.50,152.16 L695.50,152.47 L696.50,152.78 L697.50,153.08 L698.50,153.37 L699.50,153.66 L700.50,153.94 L701.50,154.22 L702.50,154.49 L703.50,154.75 L704.50,155.01 L705.50,155.26 L706.50,155.51 L707.50,155.76 L708.50,155.99 L709.50,156.23 L710.50,156.46 L711.50,156.68 L712.50,156.90 L713.50,157.11 L714.50,157.33 L715.50,157.53 L716.50,157.74 L717.50,157.94 L718.50,158.13 L719.50,158.33 L720.50,158.52 L721.50,158.70 L722.50,158.89 L723.50,159.07 L724.50,159.25 L725.50,159.43 L726.50,159.60 L727.50,159.77 L728.50,159.94 L729.50,160.11 L730.50,160.28 L731.50,160.44 L732.50,160.61 L733.50,160.77 L734.50,160.93 L735.50,161.09 L736.50,161.25 L737.50,161.41 L738.50,161.57 L739.50,161.72 L740.50,161.88 L741.50,162.04 L742.50,162.20 L743.50,162.35 L744.50,162.51 L745.50,162.67 L746.50,162.83 L747.50,162.99 L748.50,163.15 L749.50,163.31 L750.50,163.48 L751.50,163.64 L752.50,163.81 L753.50,163.97 L754.50,164.14 L755.50,164.32 L756.50,164.49 L757.20,164.61" fill="none" stroke="#8e8e9a" stroke-width="1" stroke-linejoin="round" stroke-linecap="round"/>
<path d="M467.90,158.40 L468.70,161.40 L470.20,162.55 L471.20,162.33 L472.20,162.11 L473.20,161.87 L474.20,161.62 L475.20,161.35 L476.20,161.07 L477.20,160.78 L478.20,160.48 L479.20,160.16 L480.20,159.83 L481.20,159.49 L482.20,159.14 L483.20,158.77 L484.20,158.39 L485.20,157.99 L486.20,157.58 L487.20,157.16 L488.20,156.73 L489.20,156.29 L490.20,155.83 L491.20,155.36 L492.20,154.87 L493.20,154.38 L494.20,153.87 L495.20,153.34 L496.20,152.81 L497.20,152.26 L498.20,151.70 L499.20,151.13 L500.20,150.54 L501.20,149.94 L502.20,149.33 L503.20,148.71 L504.20,148.07 L505.20,147.42 L506.20,146.76 L507.20,146.08 L508.20,145.40 L509.20,144.70 L510.20,143.98 L511.20,143.26 L512.20,142.52 L513.20,141.77 L514.20,141.01 L515.20,140.23 L516.20,139.45 L517.20,138.65 L518.20,137.83 L519.20,137.01 L520.20,136.18 L521.20,135.33 L522.20,134.47 L523.20,133.61 L524.20,132.73 L525.20,131.84 L526.20,130.94 L527.20,130.04 L528.20,129.12 L529.20,128.19 L530.20,127.26 L531.20,126.32 L532.20,125.37 L533.20,124.41 L534.20,123.44 L535.20,122.47 L536.20,121.49 L537.20,120.50 L538.20,119.50 L539.20,118.50 L540.20,117.50 L541.20,116.48 L542.20,115.47 L543.20,114.44 L544.20,113.42 L545.20,112.39 L546.20,111.36 L547.20,110.32 L548.20,109.29 L549.20,108.25 L550.20,107.22 L551.20,106.18 L552.20,105.15 L553.20,104.12 L554.20,103.09 L555.20,102.07 L556.20,101.05 L557.20,100.03 L558.20,99.02 L559.20,98.02 L560.20,97.02 L561.20,96.03 L562.20,95.05 L563.20,94.07 L564.20,93.11 L565.20,92.15 L566.20,91.21 L567.20,90.28 L568.20,89.36 L569.20,88.45 L570.20,87.55 L571.20,86.67 L572.20,85.81 L573.20,84.95 L574.20,84.12 L575.20,83.30 L576.20,82.50 L577.20,81.71 L578.20,80.95 L579.20,80.20 L580.20,79.47 L581.20,78.77 L582.20,78.08 L583.20,77.42 L584.20,76.78 L585.20,76.16 L586.20,75.56 L587.20,74.99 L588.20,74.45 L589.20,73.93 L590.20,73.44 L591.20,72.97 L592.20,72.53 L593.20,72.12 L594.20,71.74 L595.20,71.39 L596.20,71.06 L597.20,70.77 L598.20,70.51 L599.20,70.29 L600.20,70.09 L601.20,69.93 L602.20,69.80 L603.20,69.71 L604.20,69.66 L605.20,69.64 L606.20,69.65 L607.20,69.71 L608.20,69.80 L609.20,69.93 L610.20,70.10 L611.20,70.31 L612.20,70.56 L613.20,70.85 L614.20,71.18 L615.20,71.56 L616.20,71.97 L617.20,72.43 L618.20,72.92 L619.20,73.45 L620.20,74.01 L621.20,74.61 L622.20,75.24 L623.20,75.91 L624.20,76.61 L625.20,77.34 L626.20,78.10 L627.20,78.89 L628.20,79.71 L629.20,80.55 L630.20,81.42 L631.20,82.31 L632.20,83.22 L633.20,84.14 L634.20,85.09 L635.20,86.04 L636.20,87.02 L637.20,88.00 L638.20,88.99 L639.20,89.99 L640.20,91.00 L641.20,92.01 L642.20,93.03 L643.20,94.04 L644.20,95.06 L645.20,96.08 L646.20,97.10 L647.20,98.11 L648.20,99.12 L649.20,100.12 L650.20,101.12 L651.20,102.11 L652.20,103.08 L653.20,104.05 L654.20,105.01 L655.20,105.95 L656.20,106.88 L657.20,107.79 L658.20,108.69 L659.20,109.57 L660.20,110.43 L661.20,111.28 L662.20,112.11 L663.20,112.92 L664.20,113.72 L665.20,114.51 L666.20,115.28 L667.20,116.04 L668.20,116.79 L669.20,117.52 L670.20,118.25 L671.20,118.96 L672.20,119.66 L673.20,120.35 L674.20,121.04 L675.20,121.71 L676.20,122.37 L677.20,123.03 L678.20,123.68 L679.20,124.31 L680.20,124.94 L681.20,125.56 L682.20,126.17 L683.20,126.77 L684.20,127.37 L685.20,127.95 L686.20,128.53 L687.20,129.10 L688.20,129.66 L689.20,130.21 L690.20,130.75 L691.20,131.28 L692.20,131.81 L693.20,132.33 L694.20,132.84 L695.20,133.34 L696.20,133.84 L697.20,134.33 L698.20,134.81 L699.20,135.28 L700.20,135.75 L701.20,136.20 L702.20,136.65 L703.20,137.10 L704.20,137.53 L705.20,137.96 L706.20,138.39 L707.20,138.80 L708.20,139.21 L709.20,139.61 L710.20,140.00 L711.20,140.39 L712.20,140.77 L713.20,141.15 L714.20,141.52 L715.20,141.88 L716.20,142.24 L717.20,142.59 L718.20,142.93 L719.20,143.27 L720.20,143.60 L721.20,143.92 L722.20,144.24 L723.20,144.56 L724.20,144.87 L725.20,145.17 L726.20,145.47 L727.20,145.76 L728.20,146.04 L729.20,146.33 L730.20,146.60 L731.20,146.87 L732.20,147.14 L733.20,147.40 L734.20,147.66 L735.20,147.91 L736.20,148.16 L737.20,148.40 L738.20,148.64 L739.20,148.87 L740.20,149.10 L741.20,149.32 L742.20,149.54 L743.20,149.76 L744.20,149.97 L745.20,150.18 L746.20,150.38 L747.20,150.59 L748.20,150.78 L749.20,150.98 L750.20,151.17 L751.20,151.35 L752.20,151.53 L753.20,151.71 L754.20,151.89 L755.20,152.06 L756.20,152.23 L757.20,152.40 L757.40,152.43" fill="none" stroke="#e49c9c" stroke-width="1" stroke-linejoin="round" stroke-linecap="round"/>
<path d="M459.60,182.00 L461.10,184.70 L464.10,185.58 L465.10,185.47 L466.10,185.35 L467.10,185.21 L468.10,185.07 L469.10,184.91 L470.10,184.74 L471.10,184.56 L472.10,184.38 L473.10,184.18 L474.10,183.97 L475.10,183.76 L476.10,183.54 L477.10,183.31 L478.10,183.07 L479.10,182.83 L480.10,182.57 L481.10,182.32 L482.10,182.06 L483.10,181.79 L484.10,181.52 L485.10,181.24 L486.10,180.96 L487.10,180.67 L488.10,180.39 L489.10,180.09 L490.10,179.80 L491.10,179.51 L492.10,179.21 L493.10,178.91 L494.10,178.61 L495.10,178.32 L496.10,178.02 L497.10,177.72 L498.10,177.42 L499.10,177.12 L500.10,176.83 L501.10,176.54 L502.10,176.25 L503.10,175.96 L504.10,175.67 L505.10,175.39 L506.10,175.10 L507.10,174.82 L508.10,174.53 L509.10,174.24 L510.10,173.96 L511.10,173.67 L512.10,173.38 L513.10,173.08 L514.10,172.79 L515.10,172.49 L516.10,172.19 L517.10,171.88 L518.10,171.57 L519.10,171.25 L520.10,170.93 L521.10,170.61 L522.10,170.28 L523.10,169.94 L524.10,169.59 L525.10,169.24 L526.10,168.88 L527.10,168.51 L528.10,168.14 L529.10,167.75 L530.10,167.36 L531.10,166.95 L532.10,166.54 L533.10,166.12 L534.10,165.68 L535.10,165.24 L536.10,164.78 L537.10,164.32 L538.10,163.85 L539.10,163.36 L540.10,162.86 L541.10,162.36 L542.10,161.84 L543.10,161.31 L544.10,160.77 L545.10,160.22 L546.10,159.66 L547.10,159.08 L548.10,158.49 L549.10,157.90 L550.10,157.29 L551.10,156.66 L552.10,156.03 L553.10,155.38 L554.10,154.72 L555.10,154.05 L556.10,153.37 L557.10,152.67 L558.10,151.96 L559.10,151.23 L560.10,150.50 L561.10,149.75 L562.10,148.98 L563.10,148.21 L564.10,147.42 L565.10,146.61 L566.10,145.79 L567.10,144.96 L568.10,144.11 L569.10,143.25 L570.10,142.38 L571.10,141.49 L572.10,140.58 L573.10,139.66 L574.10,138.73 L575.10,137.78 L576.10,136.82 L577.10,135.84 L578.10,134.84 L579.10,133.83 L580.10,132.81 L581.10,131.77 L582.10,130.72 L583.10,129.66 L584.10,128.59 L585.10,127.51 L586.10,126.42 L587.10,125.32 L588.10,124.22 L589.10,123.11 L590.10,122.00 L591.10,120.89 L592.10,119.77 L593.10,118.65 L594.10,117.53 L595.10,116.41 L596.10,115.29 L597.10,114.17 L598.10,113.05 L599.10,111.94 L600.10,110.84 L601.10,109.74 L602.10,108.65 L603.10,107.56 L604.10,106.48 L605.10,105.42 L606.10,104.36 L607.10,103.32 L608.10,102.29 L609.10,101.27 L610.10,100.27 L611.10,99.28 L612.10,98.31 L613.10,97.36 L614.10,96.42 L615.10,95.51 L616.10,94.62 L617.10,93.75 L618.10,92.91 L619.10,92.09 L620.10,91.29 L621.10,90.52 L622.10,89.78 L623.10,89.07 L624.10,88.39 L625.10,87.74 L626.10,87.12 L627.10,86.53 L628.10,85.98 L629.10,85.47 L630.10,84.99 L631.10,84.55 L632.10,84.14 L633.10,83.78 L634.10,83.45 L635.10,83.17 L636.10,82.92 L637.10,82.71 L638.10,82.54 L639.10,82.40 L640.10,82.30 L641.10,82.23 L642.10,82.20 L643.10,82.19 L644.10,82.22 L645.10,82.28 L646.10,82.36 L647.10,82.48 L648.10,82.62 L649.10,82.78 L650.10,82.98 L651.10,83.20 L652.10,83.44 L653.10,83.70 L654.10,83.99 L655.10,84.29 L656.10,84.62 L657.10,84.97 L658.10,85.33 L659.10,85.71 L660.10,86.11 L661.10,86.52 L662.10,86.95 L663.10,87.39 L664.10,87.85 L665.10,88.31 L666.10,88.79 L667.10,89.27 L668.10,89.77 L669.10,90.27 L670.10,90.78 L671.10,91.30 L672.10,91.83 L673.10,92.35 L674.10,92.89 L675.10,93.43 L676.10,93.98 L677.10,94.53 L678.10,95.09 L679.10,95.65 L680.10,96.21 L681.10,96.78 L682.10,97.36 L683.10,97.94 L684.10,98.52 L685.10,99.11 L686.10,99.70 L687.10,100.29 L688.10,100.89 L689.10,101.49 L690.10,102.10 L691.10,102.70 L692.10,103.31 L693.10,103.92 L694.10,104.54 L695.10,105.15 L696.10,105.77 L697.10,106.39 L698.10,107.01 L699.10,107.63 L700.10,108.25 L701.10,108.88 L702.10,109.50 L703.10,110.13 L704.10,110.75 L705.10,111.38 L706.10,112.01 L707.10,112.63 L708.10,113.26 L709.10,113.88 L710.10,114.51 L711.10,115.13 L712.10,115.75 L713.10,116.37 L714.10,116.99 L715.10,117.61 L716.10,118.23 L717.10,118.84 L718.10,119.45 L719.10,120.06 L720.10,120.67 L721.10,121.28 L722.10,121.88 L723.10,122.47 L724.10,123.06 L725.10,123.65 L726.10,124.23 L727.10,124.81 L728.10,125.38 L729.10,125.94 L730.10,126.50 L731.10,127.05 L732.10,127.59 L733.10,128.12 L734.10,128.64 L735.10,129.16 L736.10,129.66 L737.10,130.16 L738.10,130.64 L739.10,131.12 L740.10,131.58 L741.10,132.03 L742.10,132.47 L743.10,132.90 L744.10,133.31 L745.10,133.71 L746.10,134.10 L747.10,134.47 L748.10,134.83 L749.10,135.17 L750.10,135.50 L751.10,135.81 L752.10,136.11 L753.10,136.39 L754.10,136.65 L755.10,136.90 L756.10,137.12 L757.10,137.33 L757.60,137.43" fill="none" stroke="#9a9acc" stroke-width="1" stroke-linejoin="round" stroke-linecap="round"/>
<path d="M471.90,192.76 L472.90,192.36 L473.90,191.97 L474.90,191.57 L475.90,191.18 L476.90,190.80 L477.90,190.41 L478.90,190.03 L479.90,189.65 L480.90,189.27 L481.90,188.89 L482.90,188.52 L483.90,188.14 L484.90,187.77 L485.90,187.40 L486.90,187.04 L487.90,186.67 L488.90,186.31 L489.90,185.95 L490.90,185.59 L491.90,185.23 L492.90,184.87 L493.90,184.52 L494.90,184.16 L495.90,183.81 L496.90,183.46 L497.90,183.11 L498.90,182.76 L499.90,182.42 L500.90,182.07 L501.90,181.73 L502.90,181.39 L503.90,181.04 L504.90,180.70 L505.90,180.37 L506.90,180.03 L507.90,179.69 L508.90,179.36 L509.90,179.02 L510.90,178.69 L511.90,178.35 L512.90,178.02 L513.90,177.69 L514.90,177.36 L515.90,177.03 L516.90,176.70 L517.90,176.38 L518.90,176.05 L519.90,175.72 L520.90,175.39 L521.90,175.07 L522.90,174.74 L523.90,174.42 L524.90,174.09 L525.90,173.77 L526.90,173.45 L527.90,173.12 L528.90,172.80 L529.90,172.48 L530.90,172.16 L531.90,171.83 L532.90,171.51 L533.90,171.19 L534.90,170.87 L535.90,170.54 L536.90,170.22 L537.90,169.90 L538.90,169.58 L539.90,169.25 L540.90,168.93 L541.90,168.61 L542.90,168.28 L543.90,167.96 L544.90,167.64 L545.90,167.31 L546.90,166.99 L547.90,166.66 L548.90,166.33 L549.90,166.01 L550.90,165.68 L551.90,165.35 L552.90,165.02 L553.90,164.69 L554.90,164.36 L555.90,164.03 L556.90,163.70 L557.90,163.37 L558.90,163.04 L559.90,162.70 L560.90,162.37 L561.90,162.03 L562.90,161.69 L563.90,161.36 L564.90,161.02 L565.90,160.68 L566.90,160.33 L567.90,159.99 L568.90,159.65 L569.90,159.30 L570.90,158.95 L571.90,158.61 L572.90,158.26 L573.90,157.90 L574.90,157.55 L575.90,157.20 L576.90,156.84 L577.90,156.48 L578.90,156.12 L579.90,155.76 L580.90,155.40 L581.90,155.04 L582.90,154.67 L583.90,154.30 L584.90,153.93 L585.90,153.56 L586.90,153.19 L587.90,152.81 L588.90,152.44 L589.90,152.06 L590.90,151.68 L591.90,151.29 L592.90,150.91 L593.90,150.52 L594.90,150.13 L595.90,149.74 L596.90,149.35 L597.90,148.95 L598.90,148.55 L599.90,148.15 L600.90,147.75 L601.90,147.34 L602.90,146.93 L603.90,146.52 L604.90,146.11 L605.90,145.70 L606.90,145.28 L607.90,144.86 L608.90,144.44 L609.90,144.01 L610.90,143.58 L611.90,143.15 L612.90,142.72 L613.90,142.28 L614.90,141.84 L615.90,141.40 L616.90,140.95 L617.90,140.51 L618.90,140.06 L619.90,139.61 L620.90,139.16 L621.90,138.71 L622.90,138.26 L623.90,137.81 L624.90,137.36 L625.90,136.91 L626.90,136.46 L627.90,136.02 L628.90,135.58 L629.90,135.15 L630.90,134.72 L631.90,134.29 L632.90,133.87 L633.90,133.45 L634.90,133.05 L635.90,132.64 L636.90,132.25 L637.90,131.86 L638.90,131.48 L639.90,131.11 L640.90,130.75 L641.90,130.40 L642.90,130.06 L643.90,129.72 L644.90,129.40 L645.90,129.09 L646.90,128.80 L647.90,128.51 L648.90,128.23 L649.90,127.96 L650.90,127.70 L651.90,127.45 L652.90,127.21 L653.90,126.98 L654.90,126.76 L655.90,126.55 L656.90,126.35 L657.90,126.16 L658.90,125.98 L659.90,125.81 L660.90,125.64 L661.90,125.49 L662.90,125.34 L663.90,125.21 L664.90,125.08 L665.90,124.96 L666.90,124.85 L667.90,124.75 L668.90,124.66 L669.90,124.57 L670.90,124.49 L671.90,124.43 L672.90,124.37 L673.90,124.31 L674.90,124.27 L675.90,124.23 L676.90,124.20 L677.90,124.18 L678.90,124.17 L679.90,124.16 L680.90,124.16 L681.90,124.17 L682.90,124.19 L683.90,124.21 L684.90,124.24 L685.90,124.28 L686.90,124.32 L687.90,124.37 L688.90,124.43 L689.90,124.50 L690.90,124.57 L691.90,124.64 L692.90,124.73 L693.90,124.82 L694.90,124.91 L695.90,125.01 L696.90,125.12 L697.90,125.24 L698.90,125.35 L699.90,125.48 L700.90,125.61 L701.90,125.75 L702.90,125.89 L703.90,126.04 L704.90,126.19 L705.90,126.35 L706.90,126.51 L707.90,126.68 L708.90,126.85 L709.90,127.03 L710.90,127.21 L711.90,127.40 L712.90,127.59 L713.90,127.78 L714.90,127.98 L715.90,128.18 L716.90,128.39 L717.90,128.60 L718.90,128.81 L719.90,129.02 L720.90,129.24 L721.90,129.46 L722.90,129.69 L723.90,129.91 L724.90,130.14 L725.90,130.37 L726.90,130.60 L727.90,130.84 L728.90,131.08 L729.90,131.31 L730.90,131.55 L731.90,131.79 L732.90,132.03 L733.90,132.28 L734.90,132.52 L735.90,132.76 L736.90,133.01 L737.90,133.25 L738.90,133.50 L739.90,133.74 L740.90,133.99 L741.90,134.23 L742.90,134.47 L743.90,134.72 L744.90,134.96 L745.90,135.20 L746.90,135.44 L747.90,135.68 L748.90,135.92 L749.90,136.15 L750.90,136.39 L751.90,136.62 L752.90,136.85 L753.90,137.08 L754.90,137.30 L755.90,137.53 L756.90,137.75 L757.90,137.96 L758.90,138.18 L759.90,138.39 L760.90,138.60 L761.90,138.80 L762.90,139.01 L763.90,139.20 L764.90,139.40 L765.90,139.59 L766.90,139.77 L767.90,139.95 L768.30,140.03" fill="none" stroke="#92c2a0" stroke-width="1" stroke-linejoin="round" stroke-linecap="round"/>
<line x1="572.5" y1="64.7" x2="572.5" y2="68.8" stroke="#707070" stroke-width="0.8"/>
<line x1="601.5" y1="68.3" x2="601.5" y2="72.4" stroke="#707070" stroke-width="0.8"/>
<line x1="643.5" y1="80.6" x2="643.5" y2="84.5" stroke="#707070" stroke-width="0.8"/>
<line x1="678.5" y1="122.3" x2="678.5" y2="126.2" stroke="#707070" stroke-width="0.8"/>
<text x="538.2" y="60.8">44.35 °C</text>
<text x="589.6" y="65.3">48.71 °C</text>
<text x="640.0" y="77.4">55.12 °C</text>
<text x="678.5" y="119.8">60.47 °C</text>
<line x1="610.5" y1="10.30" x2="636.7" y2="10.30" stroke="#111111" stroke-width="2.2"/>
<text x="637.6" y="14.90" style="fill:#1e1e1e;stroke:#1e1e1e">M3HBMMA</text>
<line x1="610.5" y1="22.57" x2="636.7" y2="22.57" stroke="#e35a5e" stroke-width="2.2"/>
<text x="637.6" y="27.17" style="fill:#e0646c;stroke:#e0646c">M3HBMMA 2% ISDMMA</text>
<line x1="610.5" y1="34.84" x2="636.7" y2="34.84" stroke="#3358c0" stroke-width="2.2"/>
<text x="637.6" y="39.44" style="fill:#4660b2;stroke:#4660b2">M3HBMMA 5% ISDMMA</text>
<line x1="610.5" y1="47.11" x2="636.7" y2="47.11" stroke="#14a04a" stroke-width="2.2"/>
<text x="637.6" y="51.71" style="fill:#279a50;stroke:#279a50">M3HBMMA 10% ISDMMA</text>
</svg>
</body></html>
